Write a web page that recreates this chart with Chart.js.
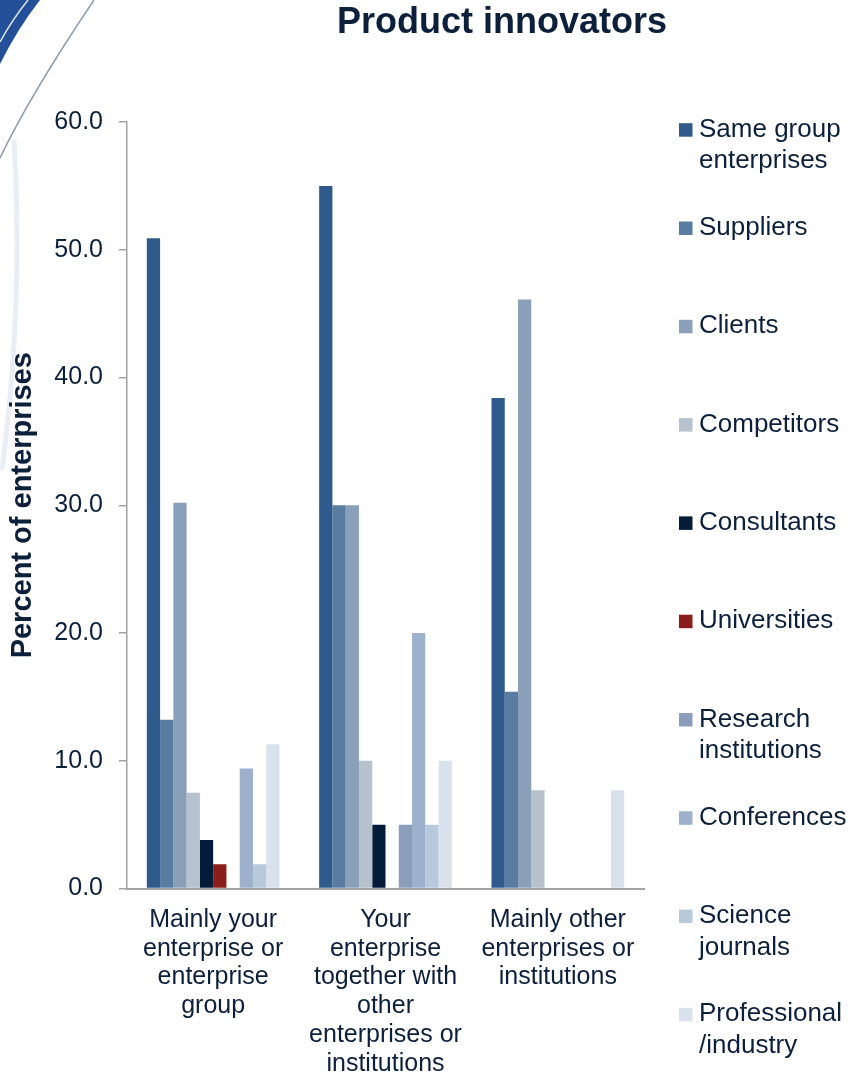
<!DOCTYPE html>
<html>
<head>
<meta charset="utf-8">
<title>Product innovators</title>
<script src="https://cdn.jsdelivr.net/npm/chart.js@4.4.1/dist/chart.umd.min.js"></script>
<style>
    body { margin: 0; background: #fff; }
    canvas { display: block; }
</style>
</head>
<body>
<canvas id="myChart" width="852" height="1085"></canvas>

<script>
    // who the innovation was mainly developed by
    const categories = [
        ["Mainly your", "enterprise or", "enterprise", "group"],
        ["Your", "enterprise", "together with", "other", "enterprises or", "institutions"],
        ["Mainly other", "enterprises or", "institutions"]
    ];

    // information sources, one series each (percent of enterprises)
    const sameGroup     = [50.9, 55.0, 38.4];
    const suppliers     = [13.2, 30.0, 15.4];
    const clients       = [30.2, 30.0, 46.1];
    const competitors   = [7.5, 10.0, 7.7];
    const consultants   = [3.8, 5.0, null];
    const universities  = [1.9, null, null];
    const research      = [null, 5.0, null];
    const conferences   = [9.4, 20.0, null];
    const journals      = [1.9, 5.0, null];
    const professional  = [11.3, 10.0, 7.7];

    const seriesNames = [
        ["Same group", "enterprises"], ["Suppliers"], ["Clients"], ["Competitors"],
        ["Consultants"], ["Universities"], ["Research", "institutions"], ["Conferences"],
        ["Science", "journals"], ["Professional", "/industry"]
    ];
    const seriesValues = [sameGroup, suppliers, clients, competitors, consultants,
        universities, research, conferences, journals, professional];
    const seriesColors = ["#2e5b8b", "#597ca2", "#8aa0b8", "#b6c2ce", "#041c3a",
        "#8b1e1a", "#8a9dba", "#9db1cc", "#b9c9dc", "#d9e2ec"];

    const yTicks = [0, 10, 20, 30, 40, 50, 60];

    const textColor = "#0c1f3b";
    const fontFamily = '"Liberation Sans", Arial, sans-serif';

    // slide background, title and the stacked legend on the right
    const slideDecor = {
        id: "slideDecor",
        beforeDraw(chart) {
            const ctx = chart.ctx;
            ctx.save();
            ctx.fillStyle = "#fff";
            ctx.fillRect(0, 0, chart.width, chart.height);

            // faint sweep along the left edge
            ctx.strokeStyle = "rgba(200,212,228,0.4)";
            ctx.lineWidth = 5;
            ctx.beginPath();
            ctx.moveTo(14, 140);
            ctx.quadraticCurveTo(24, 300, 2, 470);
            ctx.stroke();

            // blue swoosh in the corner
            ctx.fillStyle = "#24509a";
            ctx.beginPath();
            ctx.moveTo(0, 0);
            ctx.lineTo(40, 0);
            ctx.quadraticCurveTo(18, 28, 0, 64);
            ctx.closePath();
            ctx.fill();
            ctx.strokeStyle = "rgba(255,255,255,0.85)";
            ctx.lineWidth = 1.5;
            ctx.beginPath();
            ctx.moveTo(28, 0);
            ctx.quadraticCurveTo(12, 20, 0, 42);
            ctx.stroke();

            // thin grey arc
            ctx.strokeStyle = "#9099ab";
            ctx.lineWidth = 1.5;
            ctx.beginPath();
            ctx.moveTo(94, 0);
            ctx.quadraticCurveTo(30, 95, 0, 158);
            ctx.stroke();
            ctx.restore();
        },
        afterDraw(chart, args, opts) {
            const ctx = chart.ctx;
            ctx.save();
            ctx.fillStyle = textColor;
            ctx.textAlign = "center";
            ctx.textBaseline = "alphabetic";
            ctx.font = "bold 36px " + fontFamily;
            ctx.fillText(opts.title, opts.titleX, opts.titleY);

            ctx.textAlign = "left";
            ctx.font = "26px " + fontFamily;
            chart.data.datasets.forEach((ds, i) => {
                const base = opts.legendTop + opts.legendStep * i;
                ctx.fillStyle = ds.backgroundColor;
                ctx.fillRect(opts.legendX, base - 13.5, 13.5, 13.5);
                ctx.fillStyle = textColor;
                seriesNames[i].forEach((line, j) => {
                    ctx.fillText(line, opts.legendX + 20, base + j * 31.6);
                });
            });
            ctx.restore();
        }
    };

    const datasets = seriesValues.map((vals, i) => ({
        label: seriesNames[i].join(" "),
        data: vals,
        backgroundColor: seriesColors[i],
        borderWidth: 0,
        categoryPercentage: 0.77,
        barPercentage: 1.0
    }));

    let myChart = new Chart("myChart", {
        type: "bar",
        data: {
            labels: categories,
            datasets: datasets
        },
        plugins: [slideDecor],
        options: {
            responsive: false,
            animation: false,
            layout: {
                padding: { top: 122, right: 208, bottom: 0, left: 0 }
            },
            plugins: {
                legend: { display: false },
                tooltip: { enabled: false },
                slideDecor: {
                    title: "Product innovators",
                    titleX: 502,
                    titleY: 33,
                    legendX: 679,
                    legendTop: 136.7,
                    legendStep: 98.3
                }
            },
            scales: {
                x: {
                    grid: { display: false },
                    border: { display: true, color: "#a3a3a3", width: 2 },
                    ticks: {
                        color: textColor,
                        padding: 9,
                        maxRotation: 0,
                        autoSkip: false,
                        font: { family: fontFamily, size: 25, lineHeight: 1.15 }
                    },
                    afterFit(scale) { scale.height = 196.5; }
                },
                y: {
                    min: 0,
                    max: 60,
                    afterBuildTicks(scale) {
                        scale.ticks = yTicks.map(v => ({ value: v }));
                    },
                    grid: {
                        drawOnChartArea: false,
                        color: "#a3a3a3",
                        lineWidth: 1.5,
                        tickLength: 8
                    },
                    border: { display: true, color: "#a3a3a3", width: 1.5 },
                    ticks: {
                        color: textColor,
                        padding: 16,
                        font: { family: fontFamily, size: 25 },
                        callback: v => v.toFixed(1)
                    },
                    title: {
                        display: true,
                        text: "Percent of enterprises",
                        color: textColor,
                        font: { family: fontFamily, size: 29, weight: "bold" },
                        padding: { top: 6, bottom: 0 }
                    },
                    afterFit(scale) { scale.width = 127; }
                }
            }
        }
    });
</script>
</body>
</html>
